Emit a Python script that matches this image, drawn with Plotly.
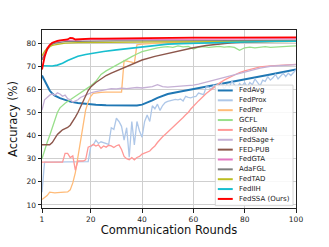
import plotly.graph_objects as go

# ---------------- data ----------------
names = ["FedAvg", "FedProx", "FedPer", "GCFL", "FedGNN", "FedSage+", "FED-PUB",
         "FedGTA", "AdaFGL", "FedTAD", "FedIIH", "FedSSA (Ours)"]
colors = ["#1f77b4", "#aec7e8", "#ffbb78", "#98df8a", "#ff9896", "#c5b0d5", "#8c564b",
          "#e377c2", "#7f7f7f", "#bcbd22", "#17becf", "#ff0000"]

fedavg_r = [1, 2, 3, 4, 5, 6, 8, 10, 12, 15, 18, 22, 26, 30, 34, 38, 40, 42, 44, 46, 48, 50,
            55, 60, 65, 70, 75, 80, 85, 90, 95, 100]
fedavg_v = [66, 64, 61.5, 59.5, 58.2, 57.3, 56.2, 55.3, 54.7, 54.1, 53.7, 53.3, 53.1, 53, 52.9, 53,
            53.4, 54.2, 55.2, 56.3, 57.2, 58, 59.1, 60.1, 61.2, 62.2, 63.3, 64.3, 65.4, 66.4, 67.5, 68.6]

fedprox_r = list(range(1, 101))
fedprox_v = [15.5, 28.5, 28.5, 28.5, 28.5, 28.5, 28.5, 28.5, 28.5, 28.5,
             28.5, 28.5, 28.5, 28.5, 28.5, 28.5, 28.5, 28.5, 28.7, 35.3,
             36, 38, 36.6, 37.3, 37, 36.6, 36.2, 43.4, 42.7, 47.5,
             46.1, 44, 38, 43.4, 30.6, 46.1, 36, 46.1, 42, 39.3,
             46.1, 48.9, 46.1, 52.9, 51.6, 53.6, 50.9, 53, 54.3, 54.8,
             55, 55.4, 55.7, 55.5, 55.8, 55, 57, 56.5, 56.3, 56.8,
             57, 58.4, 58, 57.7, 61.1, 61, 60, 62, 59.5, 61.5,
             62.5, 60, 62, 61, 63.5, 62, 60.5, 62.5, 61.5, 63,
             61, 63, 62, 64.5, 63, 61.5, 64, 63.5, 65.5, 64,
             65, 66.5, 64.5, 66, 67, 65.5, 67, 66, 67.5, 68.5]

fedper_r = [1, 2, 3, 4, 5, 6, 7, 8, 9, 10, 11, 12, 13, 14, 15, 16, 17, 18, 19, 20, 21, 22, 24,
            26, 28, 30, 32, 33, 34, 35, 36, 37, 38, 40, 45, 50, 60, 70, 80, 90, 100]
fedper_v = [12.3, 13, 14, 15.5, 15.3, 15.2, 15.3, 15.3, 15.4, 15.4, 15.6, 16.5, 19.5, 24, 31, 38,
            45, 51, 54.5, 57, 58.3, 58.5, 58.7, 58.8, 58.8, 58.9, 58.8, 72.5, 72.3, 72, 71.8, 71.3,
            79.3, 79.6, 80, 80.2, 80.3, 80.4, 80.5, 80.6, 80.7]

gcfl_r = [1, 2, 3, 4, 5, 6, 7, 8, 9, 10, 12, 14, 16, 18, 20, 22, 24, 26, 28, 30, 32, 34, 36, 38,
          40, 42, 44, 46, 48, 50, 52, 54, 56, 58, 60, 62, 64, 66, 68, 70, 72, 74, 76, 78, 80, 82,
          84, 86, 88, 90, 92, 94, 96, 98, 100]
gcfl_v = [30, 34, 37, 40, 43.5, 47, 50, 52, 53, 54, 55.5, 57, 58.5, 60, 61.5, 63.5, 66.5, 68, 69.3,
          70.5, 71.8, 73, 74.2, 75.3, 76.3, 76.9, 77.5, 78, 78.3, 78.5, 78.2, 78.8, 78.4, 78.6,
          77.5, 78.3, 78.5, 78.2, 78.4, 78.6, 78.3, 78.5, 78.2, 76.9, 78, 78.3, 78, 78.3, 78.5,
          78.2, 78.4, 78.6, 78.5, 78.7, 78.8]

fedgnn_r = list(range(1, 61)) + [62, 65, 68, 70, 72, 75, 78, 80, 83, 86, 90, 93, 96, 100]
fedgnn_v = [28.5, 28.5, 28.5, 28.5, 28.5, 28.5, 28.5, 28.5, 28.5, 32.3,
            32.3, 30.5, 31.2, 25, 29, 29, 29, 29.5, 35, 35.5,
            36.2, 35.5, 36, 34.5, 35.5, 35, 35.8, 35.5, 34.8, 35.6,
            36, 34, 31, 30, 29.5, 30.5, 29.5, 30.5, 31, 32,
            32.5, 33, 33.3, 34.5, 35.5, 37, 38.5, 39.5, 40.5, 41.5,
            42.5, 43.5, 44.5, 45.5, 46.5, 47.8, 49, 50, 51.5, 52.8,
            55, 58.2, 61, 62.6, 64, 65.8, 67.3, 68, 69, 69.7, 70.2, 70.4, 70.6, 70.8]

fedsage_r = [1, 2, 3, 4, 5, 6, 7, 8, 9, 10, 11, 12, 13, 14, 15, 16, 17, 18, 20, 22, 24, 26, 28,
             30, 32, 34, 36, 38, 40, 42, 44, 46, 48, 50, 52, 55, 58, 60, 62, 65, 68, 70, 72, 75,
             78, 80, 83, 86, 90, 93, 96, 100]
fedsage_v = [51, 55.5, 56.5, 57.5, 58, 57.5, 58.5, 58, 57, 57.5, 56, 55.5, 54.5, 55, 55.5, 56.5,
             57, 57.5, 58.5, 59, 59.5, 60, 60.3, 60.2, 60.5, 60.3, 60.6, 60.8, 60.6, 61, 61.2, 62,
             61.2, 61, 61.2, 61.3, 61.5, 61.8, 62.3, 63.2, 64, 64.7, 65.2, 66, 66.8, 67.5, 68.3,
             69.2, 70, 70.3, 70.5, 70.7]

fedpub_r = [1, 2, 3, 4, 5, 6, 7, 8, 9, 10, 11, 12, 13, 14, 15, 16, 17, 18, 19, 20, 22, 24, 26,
            28, 30, 32, 34, 36, 38, 40, 45, 50, 55, 60, 65, 70, 75, 80, 90, 100]
fedpub_v = [36, 36, 36, 36, 37, 39, 40.5, 41.5, 42.5, 43, 43.5, 44.5, 46, 48, 50, 52.5, 55, 57.5,
            59.5, 61, 63, 64.5, 66, 67, 68, 69, 70, 71, 72, 72.7, 74.3, 75.5, 77, 78, 79, 79.7,
            80.2, 80.5, 80.8, 81]

fedgta_r = [1, 2, 3, 4, 5, 6, 8, 10, 15, 20, 30, 40, 50, 60, 70, 80, 90, 100]
fedgta_v = [73, 76, 78, 79.3, 80, 80.5, 81, 81.2, 81.4, 81.5, 81.6, 81.6, 81.7, 81.7, 81.8, 81.8,
            81.9, 81.9]

adafgl_r = [1, 2, 3, 4, 5, 6, 8, 10, 15, 20, 30, 50, 70, 100]
adafgl_v = [72.7, 75, 77, 78.5, 79.5, 80, 80.5, 80.7, 80.8, 80.9, 81, 81, 81.1, 81.2]

fedtad_r = [1, 2, 3, 4, 5, 6, 8, 10, 15, 20, 30, 50, 70, 100]
fedtad_v = [74.5, 76.5, 77.8, 78.5, 79, 79.3, 79.7, 80, 80.2, 80.3, 80.5, 80.6, 80.7, 80.8]

fediih_r = [1, 3, 5, 7, 9, 11, 13, 15, 18, 20, 25, 30, 35, 40, 45, 50, 55, 60, 70, 80, 90, 100]
fediih_v = [70.2, 70, 70.1, 70.5, 71.3, 72.5, 73.5, 74.3, 75.1, 75.5, 76.4, 77.1, 77.8, 78.5,
            79.2, 79.6, 79.8, 80, 80.3, 80.5, 80.7, 80.8]

fedssa_r = [1, 2, 3, 4, 5, 6, 7, 8, 9, 10, 11, 12, 13, 14, 15, 17, 20, 25, 30, 40, 50, 60, 70,
            80, 90, 100]
fedssa_v = [68.6, 74, 77.5, 79.2, 80.2, 80.7, 81, 81.2, 81.3, 81.4, 81.6, 82.3, 82.2, 81.6, 81.7,
            81.9, 82, 82, 82.1, 82.2, 82.3, 82.4, 82.4, 82.5, 82.5, 82.5]

series_r = [fedavg_r, fedprox_r, fedper_r, gcfl_r, fedgnn_r, fedsage_r, fedpub_r,
            fedgta_r, adafgl_r, fedtad_r, fediih_r, fedssa_r]
series_v = [fedavg_v, fedprox_v, fedper_v, gcfl_v, fedgnn_v, fedsage_v, fedpub_v,
            fedgta_v, adafgl_v, fedtad_v, fediih_v, fedssa_v]
widths = [2, 1.3, 1.3, 1.3, 1.3, 1.3, 1.4, 1.3, 1.3, 1.3, 1.6, 1.8]

x_ticks = [1, 20, 40, 60, 80, 100]
y_ticks = [10, 20, 30, 40, 50, 60, 70, 80]

# ---------------- figure ----------------
W, H = 329, 247
ML, MR, MT, MB = 41, 33, 30, 28
font = "DejaVu Sans"

fig = go.Figure()
for n, c, r, v, w in zip(names, colors, series_r, series_v, widths):
    fig.add_trace(go.Scatter(x=r, y=v, mode="lines", name=n,
                             line=dict(color=c, width=w), showlegend=False))

fig.update_layout(
    width=W, height=H, autosize=False,
    margin=dict(l=ML, r=MR, t=MT, b=MB),
    paper_bgcolor="white", plot_bgcolor="white",
    font=dict(family=font, size=7.5, color="#222222"),
    xaxis=dict(range=[1, 100], tickvals=x_ticks, showgrid=True, gridcolor="#cfcfcf",
               gridwidth=1, showline=True, linecolor="#222222", linewidth=1, mirror=True,
               ticks="outside", ticklen=3.5, tickwidth=0.8, tickcolor="#222222", zeroline=False,
               title=dict(text="Communication Rounds", font=dict(size=11.5, color="#111111"),
                          standoff=3)),
    yaxis=dict(range=[8.65, 85.7], tickvals=y_ticks, showgrid=True, gridcolor="#cfcfcf",
               gridwidth=1, showline=True, linecolor="#222222", linewidth=1, mirror=True,
               ticks="outside", ticklen=3.5, tickwidth=0.8, tickcolor="#222222", zeroline=False,
               title=dict(text="Accuracy (%)", font=dict(size=11.5, color="#111111"),
                          standoff=6)),
)

# ---------------- custom legend (matplotlib-like, compact) ----------------
pw, ph = W - ML - MR, H - MT - MB


def px_x(px):
    return (px - ML) / pw


def px_y(py):
    return (H - MB - py) / ph


box_l, box_r, box_t, box_b = 215, 293, 88.5, 216.5
fig.add_shape(type="rect", xref="paper", yref="paper",
              x0=px_x(box_l), x1=px_x(box_r), y0=px_y(box_b), y1=px_y(box_t),
              line=dict(color="#cccccc", width=0.8), fillcolor="rgba(255,255,255,0.85)",
              layer="above")
row0, step = 94.2, 10.47
for i, (n, c) in enumerate(zip(names, colors)):
    yy = px_y(row0 + step * i)
    fig.add_shape(type="line", xref="paper", yref="paper",
                  x0=px_x(217.5), x1=px_x(232.5), y0=yy, y1=yy,
                  line=dict(color=c, width=2), layer="above")
    fig.add_annotation(xref="paper", yref="paper", x=px_x(236.5), y=yy, text=n,
                       showarrow=False, xanchor="left", yanchor="middle",
                       font=dict(family=font, size=7, color="#222222"))

fig.write_html("out.html", config={"displayModeBar": False},
               post_script="document.body.style.margin='0';document.body.style.padding='0';")
